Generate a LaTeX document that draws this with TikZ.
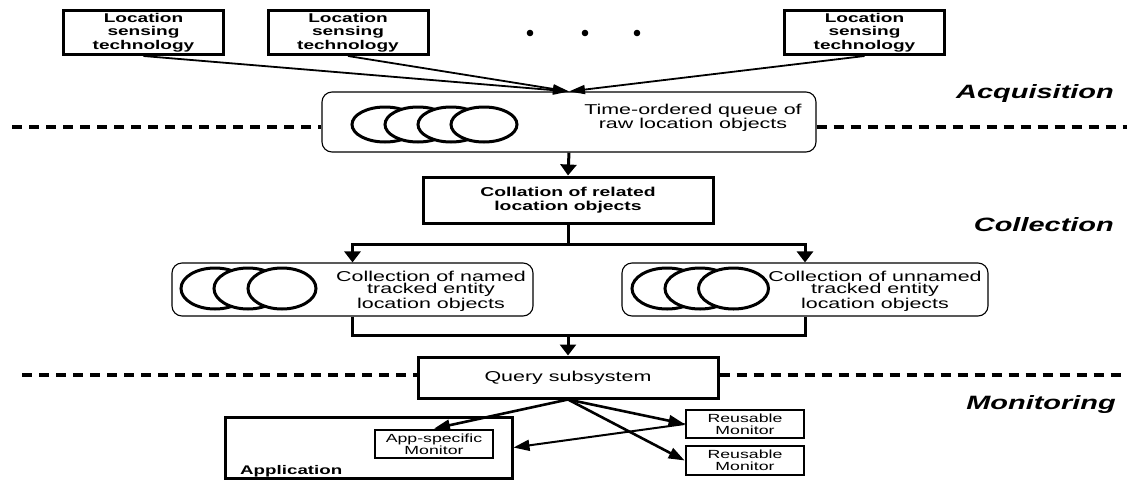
\documentclass[tikz,border=0pt]{standalone}
\usepackage{fontspec}
\setmainfont{Liberation Sans}[FakeStretch=1.5]
\usetikzlibrary{arrows.meta}
\begin{document}
\begin{tikzpicture}[x=1pt,y=-1pt,
  techbox/.style={draw,line width=3pt,minimum width=160pt,minimum height=44pt,
    inner sep=0pt,align=center,font=\bfseries\fontsize{12.7}{13.3}\selectfont},
  mainbox/.style={draw,line width=3pt,inner sep=0pt,align=center},
  softbox/.style={draw,line width=1.1pt,rounded corners=10pt,inner sep=0pt},
  monbox/.style={draw,line width=2.8pt,minimum width=118pt,minimum height=28pt,
    inner sep=0pt,align=center,font=\fontsize{11.8}{12.4}\selectfont},
  plain/.style={inner sep=0pt,align=center,font=\fontsize{14.3}{12.8}\selectfont},
  section/.style={inner sep=0pt,font=\bfseries\itshape\fontsize{19.3}{20}\selectfont},
  blob/.style={draw,line width=3pt,fill=white},
  sep/.style={line width=4.5pt,dash pattern=on 10pt off 7pt},
  feed/.style={line width=1.8pt,-{Triangle[length=16pt,width=9pt]}},
  flowline/.style={line width=3pt},
  flow/.style={line width=3pt,-{Triangle[length=11pt,width=16pt]}},
  qarrow/.style={line width=2.6pt,-{Triangle[length=16pt,width=11pt]}},
  back/.style={line width=2pt,-{Triangle[length=16pt,width=11pt]}}
]
\useasboundingbox (0,0) rectangle (1130,480);

% sensing technologies
\node[techbox] (loc1) at (143.5,32.5) {Location\\sensing\\technology};
\node[techbox] (loc2) at (348,32.5) {Location\\sensing\\technology};
\node[techbox] (loc3) at (864.5,32.5) {Location\\sensing\\technology};
\fill (530,33) circle[radius=3.3pt];
\fill (585,33) circle[radius=3.3pt];
\fill (637,33) circle[radius=3.3pt];

% raw object queue
\node[softbox,minimum width=494pt,minimum height=60pt] (queue) at (569,122) {};
\foreach \cx in {385,418,451,484}
  \draw[blob] (\cx,124.5) ellipse[x radius=33pt,y radius=17.5pt];
\node[plain] (qtext) at (693,118) {Time-ordered queue of\\raw location objects};

% collation
\node[mainbox,minimum width=290pt,minimum height=46pt,font=\bfseries\fontsize{12.9}{14}\selectfont]
  (coll) at (568,200) {Collation of related\\location objects};

% named / unnamed collections
\node[softbox,minimum width=361pt,minimum height=53pt] (named) at (352.5,289.5) {};
\foreach \cx in {215,248,282}
  \draw[blob] (\cx,288.5) ellipse[x radius=34pt,y radius=20.5pt];
\node[plain] (ntext) at (431,291) {Collection of named\\tracked entity\\location objects};

\node[softbox,minimum width=366pt,minimum height=53pt] (unnamed) at (805,289.5) {};
\foreach \cx in {667,700,733.5}
  \draw[blob] (\cx,288.5) ellipse[x radius=35pt,y radius=20.5pt];
\node[plain] (utext) at (875,291) {Collection of unnamed\\tracked entity\\location objects};

% query subsystem
\node[mainbox,minimum width=300pt,minimum height=41pt,font=\fontsize{14.3}{13}\selectfont]
  (query) at (568,377.5) {Query subsystem};

% application and monitors
\node[mainbox,minimum width=287pt,minimum height=61pt] (app) at (368.5,447.5) {};
\node[inner sep=0pt,anchor=base west,font=\bfseries\fontsize{12.5}{13}\selectfont]
  (apptext) at (240,474.5) {Application};
\node[monbox] (appmon) at (434,444) {App-specific\\Monitor};
\node[monbox] (reuse1) at (745,424) {Reusable\\Monitor};
\node[monbox,minimum height=29pt] (reuse2) at (745,460.5) {Reusable\\Monitor};

% layer separators
\coordinate (sepAL) at (12,127);
\coordinate (sepAR) at (1127,127);
\draw[sep] (sepAL) -- (sepAL -| queue.west);
\draw[sep] (sepAL -| queue.east) -- (sepAR);
\coordinate (sepML) at (22,375);
\coordinate (sepMR) at (1127,375);
\draw[sep] (sepML) -- (sepML -| query.west);
\draw[sep] (sepML -| query.east) -- (sepMR);

% layer names
\node[section,anchor=east] (acq) at (1114,94) {Acquisition};
\node[section,anchor=east] (colllab) at (1114,225) {Collection};
\node[section,anchor=east] (mon) at (1116,405) {Monitoring};

% connectors
\draw[feed] (loc1.south) -- (queue.north);
\draw[feed] (loc2.south) -- (queue.north);
\draw[feed] (loc3.south) -- (queue.north);
\draw[flow] (queue.south) -- (coll.north);
\draw[flowline] (coll.south) -- ++(0,20) coordinate (split);
\draw[flow] (split) -| (named.north);
\draw[flow] (split) -| (unnamed.north);
\coordinate (join) at (568,335);
\draw[flowline] (named.south) |- (join) -| (unnamed.south);
\draw[flow] (join) -- (query.north);
\draw[qarrow] (query.south) -- (appmon.north);
\draw[qarrow] (query.south) -- (reuse1.west);
\draw[qarrow] (query.south) -- (reuse2.west);
\draw[back] (reuse1.west) -- (app.east);
\end{tikzpicture}
\end{document}
